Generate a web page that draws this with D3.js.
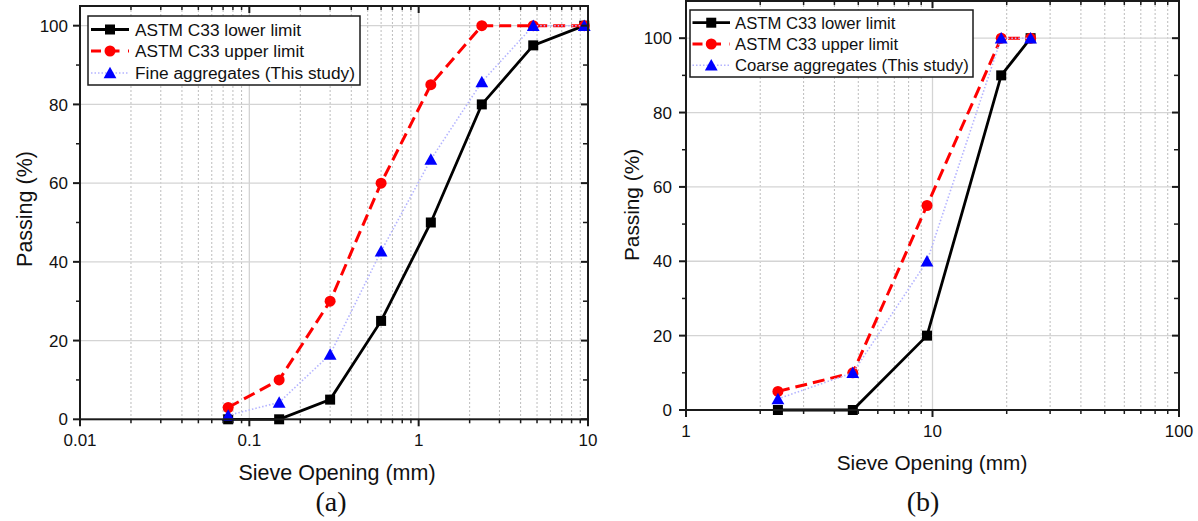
<!DOCTYPE html>
<html>
<head>
<meta charset="utf-8">
<script src="https://cdn.jsdelivr.net/npm/d3@7"></script>
<style>
  html, body { margin: 0; padding: 0; background: #fff; }
  svg { display: block; }
</style>
</head>
<body>
<svg id="chart" width="1198" height="521" font-family="Liberation Sans, Arial, Helvetica, sans-serif"></svg>
<script>
// ---- Data ----
const fineSieve   = [0.075, 0.15, 0.3, 0.6, 1.18, 2.36, 4.75, 9.5];
const fineLower   = [0, 0, 5, 25, 50, 80, 95, 100];
const fineUpper   = [3, 10, 30, 60, 85, 100, 100, 100];
const fineStudy   = [1, 4.3, 16.5, 42.7, 66, 85.7, 100, 100];

const coarseSieve = [2.36, 4.75, 9.5, 19, 25];
const coarseLower = [0, 0, 20, 90, 100];
const coarseUpper = [5, 10, 55, 100, 100];
const coarseStudy = [3, 10, 40, 100, 100];

const yTickLabels   = [0, 20, 40, 60, 80, 100];
const yMinorTicks   = [10, 30, 50, 70, 90];
const xTickLabelsA  = [0.01, 0.1, 1, 10];
const xTickLabelsB  = [1, 10, 100];

const seriesNames = ["ASTM C33 lower limit", "ASTM C33 upper limit"];
const studyNameA = "Fine aggregates (This study)";
const studyNameB = "Coarse aggregates (This study)";

const svg = d3.select("#chart");

function minorTicks(lo, hi) {
  const out = [];
  for (let d = lo; d < hi; d *= 10) {
    for (let k = 2; k <= 9; k++) out.push(d * k);
  }
  return out;
}

function fmt(v) { return String(v); }

function drawChart(o) {
  const x = d3.scaleLog().domain(o.xDomain).range([o.left, o.right]);
  const y = d3.scaleLinear().domain(o.yDomain).range([o.bottom, o.top]);
  const g = svg.append("g");
  const xMinor = minorTicks(o.xDomain[0], o.xDomain[1]);

  // grid
  g.append("g").selectAll("line").data(xMinor).join("line")
    .attr("x1", d => x(d)).attr("x2", d => x(d))
    .attr("y1", o.top).attr("y2", o.bottom)
    .attr("stroke", "#bcbcbc").attr("stroke-width", 1).attr("stroke-dasharray", "2,2");
  g.append("g").selectAll("line").data(o.xTicks.slice(1, -1)).join("line")
    .attr("x1", d => x(d)).attr("x2", d => x(d))
    .attr("y1", o.top).attr("y2", o.bottom)
    .attr("stroke", "#d4d4d4").attr("stroke-width", 1.3);
  g.append("g").selectAll("line").data(yTickLabels.slice(1)).join("line")
    .attr("x1", o.left).attr("x2", o.right)
    .attr("y1", d => y(d)).attr("y2", d => y(d))
    .attr("stroke", "#d4d4d4").attr("stroke-width", 1.3);

  // series
  const lineGen = d3.line().x(d => x(d[0])).y(d => y(d[1]));
  const lowerPts = o.sieve.map((s, i) => [s, o.lower[i]]);
  const upperPts = o.sieve.map((s, i) => [s, o.upper[i]]);
  const studyPts = o.sieve.map((s, i) => [s, o.study[i]]);

  g.append("path").datum(lowerPts).attr("d", lineGen)
    .attr("fill", "none").attr("stroke", "#000").attr("stroke-width", 2.8);
  g.append("g").selectAll("rect").data(lowerPts).join("rect")
    .attr("x", d => x(d[0]) - 5).attr("y", d => y(d[1]) - 5)
    .attr("width", 10).attr("height", 10).attr("fill", "#000");

  g.append("path").datum(upperPts).attr("d", lineGen)
    .attr("fill", "none").attr("stroke", "#ff0000").attr("stroke-width", 3)
    .attr("stroke-dasharray", "12,6");
  g.append("g").selectAll("circle").data(upperPts).join("circle")
    .attr("cx", d => x(d[0])).attr("cy", d => y(d[1])).attr("r", 5.5)
    .attr("fill", "#ff0000");

  g.append("path").datum(studyPts).attr("d", lineGen)
    .attr("fill", "none").attr("stroke", "#b4b4ff").attr("stroke-width", 1.6)
    .attr("stroke-dasharray", "1.5,2");
  const tri = "M0,-6.2L6.4,5.3L-6.4,5.3Z";
  g.append("g").selectAll("path").data(studyPts).join("path")
    .attr("d", tri).attr("transform", d => `translate(${x(d[0])},${y(d[1])})`)
    .attr("fill", "#0000ff");

  // frame
  const ax = "#1a1a1a";
  g.append("rect").attr("x", o.left).attr("y", o.top)
    .attr("width", o.right - o.left).attr("height", o.bottom - o.top)
    .attr("fill", "none").attr("stroke", ax).attr("stroke-width", 2);

  // ticks
  const tk = g.append("g").attr("stroke", ax);
  o.xTicks.forEach(v => {
    tk.append("line").attr("x1", x(v)).attr("x2", x(v)).attr("y1", o.bottom).attr("y2", o.bottom + 7).attr("stroke-width", 2);
    tk.append("line").attr("x1", x(v)).attr("x2", x(v)).attr("y1", o.top).attr("y2", o.top + 7).attr("stroke-width", 2);
  });
  xMinor.forEach(v => {
    tk.append("line").attr("x1", x(v)).attr("x2", x(v)).attr("y1", o.bottom).attr("y2", o.bottom + 4).attr("stroke-width", 1.5);
    tk.append("line").attr("x1", x(v)).attr("x2", x(v)).attr("y1", o.top).attr("y2", o.top + 4).attr("stroke-width", 1.5);
  });
  yTickLabels.forEach(v => {
    tk.append("line").attr("y1", y(v)).attr("y2", y(v)).attr("x1", o.left - 7).attr("x2", o.left).attr("stroke-width", 2);
    tk.append("line").attr("y1", y(v)).attr("y2", y(v)).attr("x1", o.right - 7).attr("x2", o.right).attr("stroke-width", 2);
  });
  yMinorTicks.forEach(v => {
    tk.append("line").attr("y1", y(v)).attr("y2", y(v)).attr("x1", o.left - 4).attr("x2", o.left).attr("stroke-width", 1.5);
    tk.append("line").attr("y1", y(v)).attr("y2", y(v)).attr("x1", o.right - 5).attr("x2", o.right).attr("stroke-width", 1.5);
  });

  // tick labels
  g.append("g").selectAll("text").data(o.xTicks).join("text")
    .attr("x", d => x(d)).attr("y", o.bottom + 27)
    .attr("text-anchor", "middle").attr("font-size", 17).attr("fill", "#111")
    .text(fmt);
  g.append("g").selectAll("text").data(yTickLabels).join("text")
    .attr("x", o.left - o.yLabelGap).attr("y", d => y(d)).attr("dy", "0.36em")
    .attr("text-anchor", "end").attr("font-size", 17).attr("fill", "#111")
    .text(fmt);

  // axis titles
  g.append("text").attr("x", o.xTitleX).attr("y", o.xTitleY)
    .attr("text-anchor", "middle").attr("font-size", o.titleSize).attr("fill", "#111")
    .text("Sieve Opening (mm)");
  g.append("text")
    .attr("transform", `translate(${o.yTitleX},${o.yTitleY}) rotate(-90)`)
    .attr("text-anchor", "middle").attr("font-size", o.titleSize).attr("fill", "#111")
    .text("Passing (%)");
  g.append("text").attr("x", o.capX).attr("y", 511)
    .attr("text-anchor", "middle").attr("font-size", 28)
    .attr("font-family", "Liberation Serif, Times New Roman, serif").attr("fill", "#111")
    .text(o.caption);

  // legend
  const L = o.legend;
  const lg = g.append("g");
  lg.append("rect").attr("x", L.x0).attr("y", L.y0).attr("width", L.x1 - L.x0).attr("height", L.y1 - L.y0)
    .attr("fill", "#fff").attr("stroke", "#1a1a1a").attr("stroke-width", 1.5);
  const names = [seriesNames[0], seriesNames[1], o.studyName];
  names.forEach((nm, i) => {
    const cy = L.rows[i];
    const ln = lg.append("line").attr("x1", L.lx0).attr("x2", L.lx1).attr("y1", cy).attr("y2", cy);
    const mx = (L.lx0 + L.lx1) / 2;
    if (i === 0) {
      ln.attr("stroke", "#000").attr("stroke-width", 2.8);
      lg.append("rect").attr("x", mx - 5).attr("y", cy - 5).attr("width", 10).attr("height", 10).attr("fill", "#000");
    } else if (i === 1) {
      ln.attr("stroke", "#ff0000").attr("stroke-width", 3).attr("stroke-dasharray", "10,8.5");
      lg.append("circle").attr("cx", mx).attr("cy", cy).attr("r", 5.5).attr("fill", "#ff0000");
    } else {
      ln.attr("stroke", "#b4b4ff").attr("stroke-width", 1.6).attr("stroke-dasharray", "1.5,2");
      lg.append("path").attr("d", tri).attr("transform", `translate(${mx},${cy})`).attr("fill", "#0000ff");
    }
    lg.append("text").attr("x", L.tx).attr("y", cy).attr("dy", "0.36em")
      .attr("font-size", L.fontSize).attr("fill", "#111").text(nm);
  });
}

drawChart({
  xDomain: [0.01, 10], yDomain: [0, 105],
  left: 80, right: 588, top: 6, bottom: 419.3,
  xTicks: xTickLabelsA,
  sieve: fineSieve, lower: fineLower, upper: fineUpper, study: fineStudy,
  studyName: studyNameA, yLabelGap: 12,
  titleSize: 21.5, xTitleX: 337, xTitleY: 480, yTitleX: 32, yTitleY: 209,
  caption: "(a)", capX: 331,
  legend: { x0: 88, x1: 360, y0: 16, y1: 85, rows: [29.5, 51, 73], lx0: 91, lx1: 129, tx: 135, fontSize: 17.3 }
});

drawChart({
  xDomain: [1, 100], yDomain: [0, 110],
  left: 686, right: 1179, top: 1, bottom: 410,
  xTicks: xTickLabelsB,
  sieve: coarseSieve, lower: coarseLower, upper: coarseUpper, study: coarseStudy,
  studyName: studyNameB, yLabelGap: 14,
  titleSize: 20.8, xTitleX: 932, xTitleY: 470, yTitleX: 639, yTitleY: 205,
  caption: "(b)", capX: 923,
  legend: { x0: 690, x1: 973, y0: 10, y1: 77, rows: [22.7, 44, 65.3], lx0: 692.5, lx1: 730, tx: 735, fontSize: 16.7 }
});
</script>
</body>
</html>
